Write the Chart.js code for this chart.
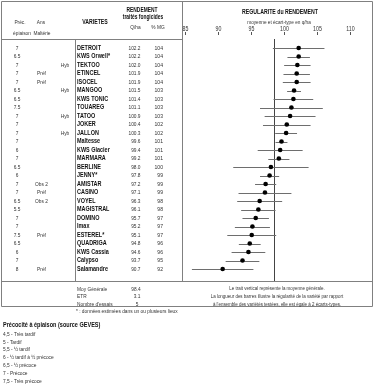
<!DOCTYPE html>
<html>
<head>
<meta charset="utf-8">
<script src="https://cdn.jsdelivr.net/npm/chart.js@4"></script>
<style>
  body { margin: 0; background: #fff; }
  canvas { display: block; }
</style>
</head>
<body>
<canvas id="chart" width="376" height="388"></canvas>
<script>
// data
const varietes = ["DETROIT", "KWS Orwell*", "TEKTOO", "ETINCEL", "ISOCEL", "MANGOO", "KWS TONIC", "TOUAREG", "TATOO", "JOKER", "JALLON", "Maltesse", "KWS Glacier", "MARMARA", "BERLINE", "JENNY*", "AMISTAR", "CASINO", "VOYEL", "MAGISTRAL", "DOMINO", "Imax", "ESTEREL*", "QUADRIGA", "KWS Cassia", "Calypso", "Salamandre"];
const precocite = ["7", "6.5", "7", "7", "7", "6.5", "6.5", "7.5", "7", "7", "7", "7", "6", "7", "6.5", "6", "7", "7", "6.5", "5.5", "7", "7", "7.5", "6.5", "6", "7", "8"];
const ansMalterie = ["", "", "", "Préf", "Préf", "", "", "", "", "", "", "", "", "", "", "", "Obs 2", "Préf", "Obs 2", "", "", "", "Préf", "", "", "", "Préf"];
const hybride = ["", "", "Hyb", "", "", "Hyb", "", "", "Hyb", "", "Hyb", "", "", "", "", "", "", "", "", "", "", "", "", "", "", "", ""];
const rendementQha = [102.2, 102.2, 102.0, 101.9, 101.9, 101.5, 101.4, 101.1, 100.9, 100.4, 100.3, 99.6, 99.4, 99.2, 98.0, 97.8, 97.2, 97.1, 96.3, 96.1, 95.7, 95.2, 95.1, 94.8, 94.6, 93.7, 90.7];
const rendementPct = [104, 104, 104, 104, 104, 103, 103, 103, 103, 102, 102, 101, 101, 101, 100, 99, 99, 99, 98, 98, 97, 97, 97, 96, 96, 95, 92];
const ecartType = [3.9, 1.7, 2.0, 2.0, 2.1, 1.05, 3.0, 4.75, 3.85, 3.6, 1.65, 0.9, 3.4, 1.6, 5.7, 1.45, 1.6, 4.0, 3.4, 2.6, 2.0, 2.65, 3.7, 1.65, 2.55, 2.55, 4.65];
const axisTicks = [85, 90, 95, 100, 105, 110];
const moyGenerale = 98.4;
const etr = 3.1;
const nombreEssais = 5;
const legendePrecocite = ["4,5 - Très tardif", "5 - Tardif", "5,5 - ½ tardif", "6 - ½ tardif à ½ précoce", "6,5 - ½ précoce", "7 - Précoce", "7,5 - Très précoce"];
const notes = [
  "Le trait vertical représente la moyenne générale.",
  "La longueur des barres illustre la régularité de la variété par rapport",
  "à l'ensemble des variétés testées, elle est égale à 2 écarts-types."
];

const FONT = '"Liberation Sans", Arial, sans-serif';

// draw text slightly condensed, like the original print
function txt(ctx, s, x, y, opts) {
  const o = Object.assign({ size: 6, bold: false, align: "left", color: "#333", squeeze: 0.8 }, opts);
  ctx.font = (o.bold ? "bold " : "") + o.size + "px " + FONT;
  ctx.fillStyle = o.color;
  ctx.textAlign = o.align;
  ctx.textBaseline = "middle";
  const w = ctx.measureText(s).width;
  ctx.fillText(s, x, y, Math.max(1, w * o.squeeze));
}

function line(ctx, x1, y1, x2, y2) {
  ctx.beginPath();
  ctx.moveTo(x1, y1);
  ctx.lineTo(x2, y2);
  ctx.stroke();
}

const errorBars = {
  id: "errorBars",
  beforeDatasetsDraw(chart) {
    const { ctx, scales: { x, y }, chartArea } = chart;
    ctx.save();
    // mean line
    ctx.strokeStyle = "#444";
    ctx.lineWidth = 1;
    const mx = Math.round(x.getPixelForValue(moyGenerale)) + 0.5;
    line(ctx, mx, chartArea.top, mx, chartArea.bottom);
    // +/- one standard deviation
    ctx.strokeStyle = "#6e6e6e";
    rendementQha.forEach((m, i) => {
      const py = Math.round(y.getPixelForValue(i)) + 0.5;
      line(ctx, x.getPixelForValue(m - ecartType[i]), py, x.getPixelForValue(m + ecartType[i]), py);
    });
    ctx.restore();
  }
};

const tableau = {
  id: "tableau",
  afterDraw(chart) {
    const { ctx, scales: { x, y }, chartArea } = chart;
    ctx.save();

    // frame
    ctx.strokeStyle = "#808080";
    ctx.lineWidth = 1;
    const top = 1.5, left = 1.5, right = chartArea.right + 0.5;
    const bodyTop = chartArea.top + 0.5, bodyBottom = chartArea.bottom + 0.5;
    const sumBottom = 306.5;
    line(ctx, left, top, right, top);
    line(ctx, left, top, left, sumBottom);
    line(ctx, right, top, right, sumBottom);
    line(ctx, left, bodyTop, chartArea.left, bodyTop);
    line(ctx, 75.5, bodyTop, 75.5, bodyBottom);
    line(ctx, chartArea.left + 0.5, top, chartArea.left + 0.5, bodyBottom);
    line(ctx, left, bodyBottom, right, bodyBottom);
    line(ctx, left, sumBottom, right, sumBottom);

    // left header
    txt(ctx, "Préc.", 20, 22, { align: "center" });
    txt(ctx, "épiaison", 22, 33, { align: "center" });
    txt(ctx, "Ans", 41, 22, { align: "center" });
    txt(ctx, "Maltérie", 42, 33, { align: "center" });
    txt(ctx, "VARIETES", 95, 22, { align: "center", bold: true, size: 6.5, color: "#111" });
    txt(ctx, "RENDEMENT", 142, 10, { align: "center", bold: true, size: 6.5, color: "#111", squeeze: 0.75 });
    txt(ctx, "traités fongicides", 143, 17, { align: "center", bold: true, size: 6.5, color: "#111", squeeze: 0.75 });
    txt(ctx, "Q/ha", 135.5, 27, { align: "center" });
    txt(ctx, "% MG", 158, 27, { align: "center" });

    // right header + axis ticks
    txt(ctx, "REGULARITE du RENDEMENT", 280, 12, { align: "center", bold: true, size: 6.5, color: "#111", squeeze: 0.8 });
    txt(ctx, "moyenne et écart-type en q/ha", 279, 22.5, { align: "center", squeeze: 0.78 });
    ctx.strokeStyle = "#555";
    axisTicks.forEach(v => {
      const px = Math.round(x.getPixelForValue(v)) + 0.5;
      txt(ctx, String(v), px, 29.5, { align: "center", size: 7, squeeze: 0.75 });
      line(ctx, px, 32, px, 35);
    });

    // rows
    varietes.forEach((name, i) => {
      const py = y.getPixelForValue(i);
      txt(ctx, precocite[i], 17, py, { align: "center" });
      txt(ctx, ansMalterie[i], 41.5, py, { align: "center" });
      txt(ctx, hybride[i], 65, py, { align: "center" });
      txt(ctx, name, 77, py, { bold: true, size: 6.5, color: "#111", squeeze: 0.84 });
      txt(ctx, rendementQha[i].toFixed(1), 140.5, py, { align: "right" });
      txt(ctx, String(rendementPct[i]), 163, py, { align: "right", squeeze: 0.85 });
    });

    // summary
    txt(ctx, "Moy Générale", 77, 289);
    txt(ctx, moyGenerale.toFixed(1), 136, 289, { align: "center" });
    txt(ctx, "ETR", 77, 296.5);
    txt(ctx, etr.toFixed(1), 137, 296.5, { align: "center" });
    txt(ctx, "Nombre d'essais", 77, 304);
    txt(ctx, String(nombreEssais), 137, 304, { align: "center" });
    txt(ctx, "* : données estimées dans un ou plusieurs lieux", 76, 311);
    notes.forEach((s, k) => txt(ctx, s, 277, 288.5 + k * 8, { align: "center", squeeze: 0.74 }));

    // précocité legend
    txt(ctx, "Précocité à épiaison (source GEVES)", 3, 325, { bold: true, size: 6.5, color: "#111", squeeze: 0.85 });
    legendePrecocite.forEach((s, k) => txt(ctx, s, 3, 334 + k * 7.9, { squeeze: 0.8 }));

    ctx.restore();
  }
};

new Chart(document.getElementById("chart"), {
  type: "scatter",
  data: {
    datasets: [{
      label: "Rendement q/ha",
      data: rendementQha.map((v, i) => ({ x: v, y: i })),
      pointRadius: 2.3,
      pointBackgroundColor: "#000",
      pointBorderColor: "#000",
      pointBorderWidth: 0
    }]
  },
  options: {
    responsive: false,
    animation: false,
    devicePixelRatio: 1,
    layout: { padding: { left: 182, right: 2, top: 39, bottom: 107 } },
    scales: {
      x: { type: "linear", display: false, min: 84.55, max: 113.29 },
      y: { type: "linear", display: false, reverse: true, min: -1.06, max: 27.41 }
    },
    plugins: {
      legend: { display: false },
      tooltip: { enabled: false }
    }
  },
  plugins: [errorBars, tableau]
});
</script>
</body>
</html>
